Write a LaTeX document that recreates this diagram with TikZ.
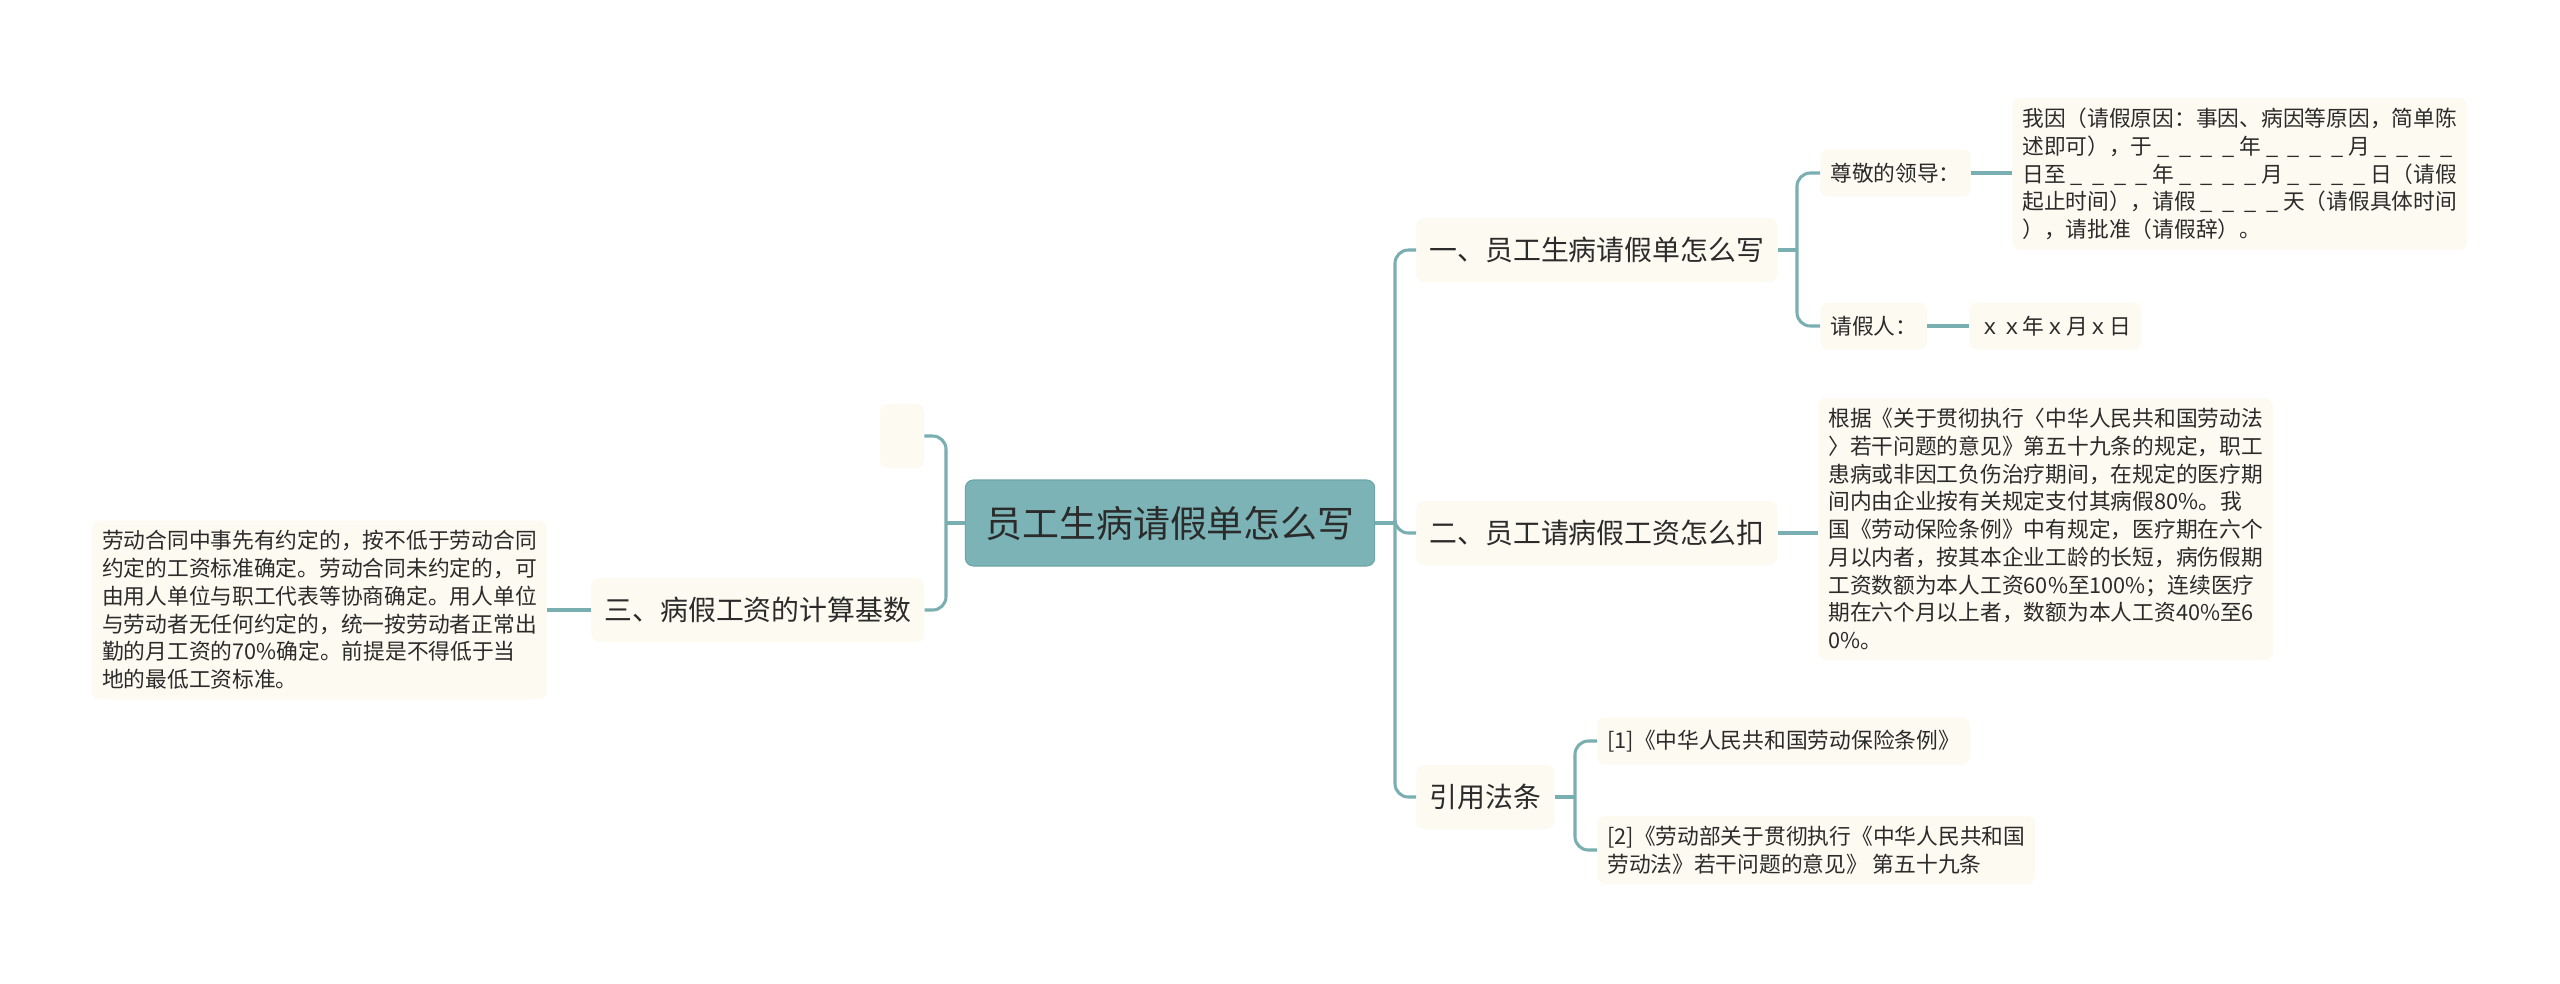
\documentclass[tikz,border=0pt]{standalone}
\usepackage{fontspec}
\newfontfamily\cjk{Noto Sans CJK SC}
\newcommand\ublank{\makebox[1em]{\_}}
\newcommand\ufour{\ublank\ublank\ublank\ublank}
\definecolor{linec}{HTML}{7AAFB2}
\definecolor{rootc}{HTML}{7BB3B6}
\definecolor{rootd}{HTML}{6DA5A8}
\definecolor{bgc}{HTML}{FDFAF1}
\definecolor{txt}{HTML}{2B2B2B}
\tikzset{
  conn/.style={draw=linec, line width=2.3pt, rounded corners=10pt},
  rootnode/.style={fill=rootc, draw=rootd, line width=0.8pt, rounded corners=6pt, text=txt,
    font=\cjk\fontsize{27.7pt}{33pt}\selectfont, minimum height=64.5pt, inner xsep=15pt, inner ysep=0pt},
  catnode/.style={fill=bgc, rounded corners=6pt, text=txt,
    font=\cjk\fontsize{20.9pt}{25pt}\selectfont, minimum height=48pt, inner xsep=10pt, inner ysep=0pt},
  leafnode/.style={fill=bgc, rounded corners=6pt, text=txt,
    font=\cjk\fontsize{16.3pt}{20.8pt}\selectfont, minimum height=35pt, inner xsep=7.5pt, inner ysep=0pt},
  textnode/.style={leafnode, align=left, inner ysep=7.5pt, minimum height=0pt},
}
\begin{document}
\begin{tikzpicture}[x=0.75pt,y=-0.75pt]
\fill[white] (0,0) rectangle (2560,983);
\useasboundingbox (0,0) rectangle (2560,983);

% root
\node[rootnode] (root) at (1170,523) {员工生病请假单怎么写};

% left side
\node[catnode, minimum width=33pt, inner xsep=0pt] (empty) at (902,436) {};
\node[catnode, anchor=west] (san) at (591,610) {三、病假工资的计算基数};
\node[textnode, anchor=east] (lbox) at (547,610) {劳动合同中事先有约定的，按不低于劳动合同\\约定的工资标准确定。劳动合同未约定的，可\\由用人单位与职工代表等协商确定。用人单位\\与劳动者无任何约定的，统一按劳动者正常出\\勤的月工资的70\%确定。前提是不得低于当\\地的最低工资标准。};

% right side categories
\node[catnode, anchor=west] (one) at (1416,250) {一、员工生病请假单怎么写};
\node[catnode, anchor=west] (two) at (1416,533) {二、员工请病假工资怎么扣};
\node[catnode, anchor=west] (cite) at (1416,797) {引用法条};

% branch one
\node[leafnode, anchor=west] (zj) at (1820,173) {尊敬的领导：};
\node[textnode, anchor=west] (b1) at (2012,174) {我因（请假原因：事因、病因等原因，简单陈\\述即可），于\ufour 年\ufour 月\ufour\\日至\ufour 年\ufour 月\ufour 日（请假\\起止时间），请假\ufour 天（请假具体时间\\），请批准（请假辞）。};
\node[leafnode, anchor=west] (qjr) at (1820,326) {请假人：};
\node[leafnode, anchor=west] (date) at (1969,326) {ｘｘ年ｘ月ｘ日};

% branch two
\node[textnode, anchor=west] (t2) at (1818,529) {根据《关于贯彻执行〈中华人民共和国劳动法\\〉若干问题的意见》第五十九条的规定，职工\\患病或非因工负伤治疗期间，在规定的医疗期\\间内由企业按有关规定支付其病假80\%。我\\国《劳动保险条例》中有规定，医疗期在六个\\月以内者，按其本企业工龄的长短，病伤假期\\工资数额为本人工资60\%至100\%；连续医疗\\期在六个月以上者，数额为本人工资40\%至6\\0\%。};

% citations
\node[leafnode, anchor=west] (c1) at (1597,741) {[1]《中华人民共和国劳动保险条例》};
\node[textnode, anchor=west] (c2) at (1597,850) {[2]《劳动部关于贯彻执行《中华人民共和国\\劳动法》若干问题的意见》 第五十九条};

% trunk coordinates
\coordinate (rt) at (1395,523);
\coordinate (lt) at (946,523);
\coordinate (ot) at (1797,250);
\coordinate (ct) at (1575,797);

% connectors
\draw[conn] (root.east) -- (rt);
\draw[conn] (rt) |- (one.west);
\draw[conn] (rt) |- (two.west);
\draw[conn] (rt) |- (cite.west);

\draw[conn] (root.west) -- (lt);
\draw[conn] (lt) |- (empty.east);
\draw[conn] (lt) |- (san.east);
\draw[conn] (san.west) -- (san.west -| lbox.east);

\draw[conn] (one.east) -- (ot);
\draw[conn] (ot) |- (zj.west);
\draw[conn] (ot) |- (qjr.west);
\draw[conn] (zj.east) -- (zj.east -| b1.west);
\draw[conn] (qjr.east) -- (date.west);

\draw[conn] (two.east) -- (two.east -| t2.west);

\draw[conn] (cite.east) -- (ct);
\draw[conn] (ct) |- (c1.west);
\draw[conn] (ct) |- (c2.west);
\end{tikzpicture}
\end{document}
